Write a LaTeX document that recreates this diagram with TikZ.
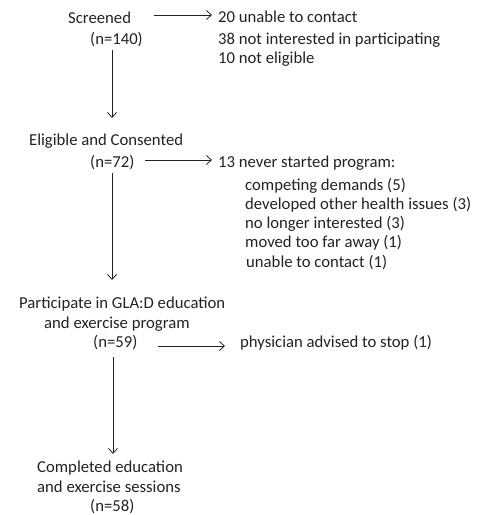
\documentclass[tikz,border=0pt]{standalone}
\usepackage{fontspec}
\setmainfont{Carlito}
\usetikzlibrary{arrows.meta}
\definecolor{ink}{HTML}{222222}
\begin{document}
\begin{tikzpicture}[x=1pt,y=-1pt,
  txt/.style={anchor=base west,inner sep=0pt,font=\fontsize{16.7}{20}\selectfont,text=ink},
  arr/.style={draw=ink,line width=0.8pt,-{Straight Barb[length=5pt,width=9pt]}}]
\useasboundingbox (0,0) rectangle (486,515);
% left column
\node[txt] (scr) at (68,23) {Screened};
\node[txt] (n140) at (90,44) {(n=140)};
\node[txt] (elig) at (29,145) {Eligible and Consented};
\node[txt] (n72) at (90,167) {(n=72)};
\node[txt] (part) at (19,308) {Participate in GLA:D education};
\node[txt] (prog) at (44,328) {and exercise program};
\node[txt] (n59) at (93,347) {(n=59)};
\node[txt] (comp) at (37,472) {Completed education};
\node[txt] (sess) at (37,492) {and exercise sessions};
\node[txt] (n58) at (90,511) {(n=58)};
% right column
\node[txt] (r1) at (218,22) {20 unable to contact};
\node[txt] (r2) at (218,44) {38 not interested in participating};
\node[txt] (r3) at (218,63) {10 not eligible};
\node[txt] (r13) at (218,167) {13 never started program:};
\node[txt] (s1) at (245,190) {competing demands (5)};
\node[txt] (s2) at (245,209) {developed other health issues (3)};
\node[txt] (s3) at (245,228) {no longer interested (3)};
\node[txt] (s4) at (245,247) {moved too far away (1)};
\node[txt] (s5) at (246,267) {unable to contact (1)};
\node[txt] (phys) at (240,347) {physician advised to stop (1)};
% vertical arrows
\coordinate (v1a) at (112,50);  \coordinate (v1b) at (112,118);
\coordinate (v2a) at (112,173); \coordinate (v2b) at (112,280);
\coordinate (v3a) at (113,357); \coordinate (v3b) at (113,454);
\draw[arr] (v1a) -- (v1b);
\draw[arr] (v2a) -- (v2b);
\draw[arr] (v3a) -- (v3b);
% horizontal arrows
\coordinate (h1a) at (154,15);  \coordinate (h1b) at (212,15);
\coordinate (h2a) at (145,160); \coordinate (h2b) at (212,160);
\coordinate (h3a) at (158,346); \coordinate (h3b) at (225,346);
\draw[arr] (h1a) -- (h1b);
\draw[arr] (h2a) -- (h2b);
\draw[arr] (h3a) -- (h3b);
\end{tikzpicture}
\end{document}
